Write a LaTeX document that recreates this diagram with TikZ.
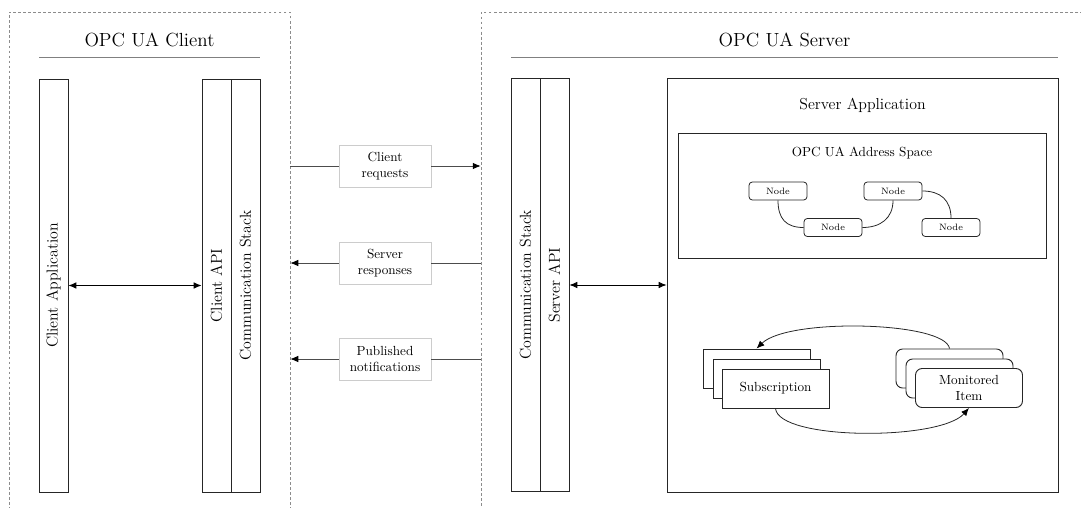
\documentclass[tikz,border=0pt]{standalone}
\usetikzlibrary{arrows.meta}
\newlength{\pxu}\setlength{\pxu}{0.7576pt}
\begin{document}
\begin{tikzpicture}[x=0.7576pt,y=-0.7576pt,
  area/.style={draw=black!45, dash pattern=on 2.2pt off 1.6pt, line width=0.5pt, inner sep=0},
  lane/.style={draw=black!85, line width=0.7pt, minimum width=29\pxu, minimum height=413\pxu, inner sep=0},
  lanetext/.style={rotate=90, font=\large, inner sep=0},
  titlerule/.style={draw=black!50, line width=0.7pt},
  msg/.style={draw=black!20, fill=white, line width=0.5pt, minimum width=92\pxu, minimum height=42\pxu, align=center, inner sep=1pt},
  msgline/.style={draw=black!70, line width=0.6pt},
  tip/.style={-{Latex[length=6pt,width=5pt,color=black]}},
  link/.style={draw=black, line width=0.6pt, {Latex[length=6pt,width=5pt]}-{Latex[length=6pt,width=5pt]}},
  addr/.style={draw=black!85, line width=0.6pt, rounded corners=2.5pt, minimum width=58\pxu, minimum height=18\pxu, font=\scriptsize, inner sep=0},
  stackbox/.style={draw=black!85, fill=white, line width=0.7pt, minimum width=107\pxu, minimum height=39\pxu, inner sep=0, align=center},
  curve/.style={draw=black!85, line width=0.6pt}
]
\useasboundingbox (0,0) rectangle (1081,508);
\clip (0,0) rectangle (1081,508);

% dashed client and server areas
\node[area, minimum width=281\pxu, minimum height=518\pxu] (carea) at (149.5,271) {};
\node[area, minimum width=619\pxu, minimum height=518\pxu] (sarea) at (790.5,271) {};

% titles
\node[font=\Large] (ctitle) at (149.5,40) {OPC UA Client};
\node[font=\Large] (stitle) at (784.5,40) {OPC UA Server};
\draw[titlerule] (39,57) -- (260,57);
\draw[titlerule] (511,57) -- (1058,57);

% client lanes
\node[lane] (capp) at (53.5,285.5) {};
\node[lanetext] at (capp) {Client Application};
\node[lane] (capi) at (216.5,285.5) {};
\node[lanetext] at (capi) {Client API};
\node[lane] (cstk) at (245.5,285.5) {};
\node[lanetext] at (cstk) {Communication Stack};
\draw[link] (capp.east) -- (capi.west);

% server lanes
\node[lane] (sstk) at (525.5,285) {};
\node[lanetext] at (sstk) {Communication Stack};
\node[lane] (sapi) at (554.5,285) {};
\node[lanetext] at (sapi) {Server API};

% server application
\node[draw=black!85, line width=0.7pt, minimum width=391\pxu, minimum height=414\pxu, inner sep=0] (sapp) at (862.5,285) {};
\node[font=\large] at (862.5,105) {Server Application};
\draw[link] (sapi.east) -- (sapp.west);

% address space
\node[draw=black!85, line width=0.7pt, minimum width=368\pxu, minimum height=125\pxu, inner sep=0] (aspace) at (862,195.5) {};
\node at (862,153) {OPC UA Address Space};
\node[addr] (n1) at (778,191) {Node};
\node[addr] (n2) at (833,227.5) {Node};
\node[addr] (n3) at (893,191) {Node};
\node[addr] (n4) at (951,227.5) {Node};
\draw[curve] (n1.south) .. controls +(0,18) and +(-18,0) .. (n2.west);
\draw[curve] (n2.east) .. controls +(18,0) and +(0,18) .. (n3.south);
\draw[curve] (n3.east) .. controls +(18,0) and +(0,-18) .. (n4.north);

% subscriptions and monitored items
\node[stackbox] (sub3) at (756.5,368.5) {};
\node[stackbox] (sub2) at (766.5,378.5) {};
\node[stackbox] (sub1) at (775.5,388.5) {Subscription};
\node[stackbox, rounded corners=5pt] (mon3) at (949.5,368.5) {};
\node[stackbox, rounded corners=5pt] (mon2) at (959.5,378.5) {};
\node[stackbox, rounded corners=5pt] (mon1) at (969,388) {Monitored\\Item};
\draw[curve, tip] (mon3.north) .. controls +(-4,-27) and +(32,-31) .. (sub3.north);
\draw[curve, tip] (sub1.south) .. controls +(3,32) and +(-29,33) .. (mon1.south);

% messages between client and server
\node[msg] (req) at (385,166) {Client\\requests};
\node[msg] (resp) at (385,263) {Server\\responses};
\node[msg] (pub) at (385,359) {Published\\notifications};
\draw[msgline] (carea.east |- req.west) -- (req.west);
\draw[msgline, tip] (req.east) -- (sarea.west |- req.east);
\draw[msgline] (sarea.west |- resp.east) -- (resp.east);
\draw[msgline, tip] (resp.west) -- (carea.east |- resp.west);
\draw[msgline] (sarea.west |- pub.east) -- (pub.east);
\draw[msgline, tip] (pub.west) -- (carea.east |- pub.west);
\end{tikzpicture}
\end{document}
